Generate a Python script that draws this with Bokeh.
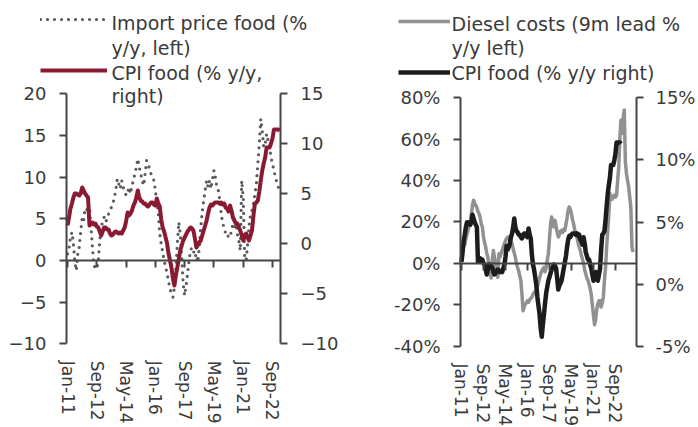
from bokeh.plotting import figure
from bokeh.models import (Range1d, LinearAxis, FixedTicker, Legend, LegendItem,
                          Label, ColumnDataSource)
from bokeh.core.properties import value
from bokeh.layouts import row
from bokeh.embed import file_html
from bokeh.resources import INLINE

# ---------------- data (months since Jan-2011) ----------------
tick_months = [0, 20, 40, 60, 80, 100, 120, 140]
tick_labels = ["Jan-11", "Sep-12", "May-14", "Jan-16", "Sep-17", "May-19", "Jan-21", "Sep-22"]

cpi_food = [
    1.8, 2.6, 3.5, 4.0, 4.6, 5.0, 5.0, 4.9, 4.8, 5.0,
    5.6, 5.3, 5.0, 4.8, 4.6, 1.8, 2.0, 2.1, 1.9, 2.0,
    1.7, 1.6, 1.2, 0.8, 1.2, 1.6, 1.6, 1.4, 1.4, 1.0,
    0.8, 0.9, 1.1, 1.2, 1.1, 1.0, 1.1, 1.0, 1.3, 1.6,
    2.2, 3.1, 2.8, 3.0, 3.3, 3.8, 4.1, 4.6, 5.3, 4.6,
    4.3, 4.2, 4.0, 4.0, 3.8, 3.7, 3.9, 4.1, 4.1, 3.9,
    3.8, 4.5, 4.0, 3.7, 2.4, 1.6, 1.2, 0.6, 0.0, -1.0,
    -1.7, -2.4, -3.5, -4.2, -3.2, -2.4, -1.5, -0.7, -0.2, 0.3,
    0.6, 0.9, 1.2, 1.4, 1.6, 1.5, 1.3, 0.5, -0.4, -0.1,
    0.1, 0.3, 0.8, 1.3, 1.8, 2.3, 3.0, 3.6, 3.9, 3.8,
    4.0, 4.1, 4.1, 4.1, 4.0, 4.1, 3.9, 4.0, 3.6, 3.5,
    3.2, 3.8, 3.3, 2.6, 2.3, 2.0, 2.0, 1.6, 1.3, 0.8,
    0.3, 0.7, 1.0, 0.6, 0.3, 0.8, 1.3, 2.8, 4.0, 4.1,
    4.3, 5.2, 6.3, 7.3, 8.0, 8.6, 9.6, 9.6, 9.6, 10.0,
    10.5, 11.4, 11.4, 11.4, 11.4, 11.3,
]

import_price_food = [
    0.8, 1.5, 2.8, 3.4, 2.0, -0.2, -1.2, 0.8, 1.6, 3.5,
    5.2, 4.8, 6.2, 6.0, 6.4, 6.2, 4.0, 1.6, -0.5, -1.0,
    -1.0, 0.0, 2.4, 3.8, 4.8, 5.2, 4.6, 5.0, 5.6, 6.0,
    6.4, 6.8, 7.6, 8.5, 9.8, 9.2, 8.6, 9.6, 8.8, 8.4,
    7.8, 8.2, 8.8, 8.0, 9.0, 9.6, 10.4, 11.2, 12.2, 11.2,
    10.4, 9.6, 9.0, 10.4, 12.0, 11.6, 11.0, 10.4, 10.0, 9.6,
    8.4, 7.0, 5.6, 3.2, 2.0, 1.0, 0.0, -0.8, -1.5, -2.5,
    -3.4, -4.0, -4.4, -3.2, -1.0, 2.0, 4.6, 3.2, 0.5, -2.8,
    -4.2, -3.0, -1.6, 0.0, 1.2, 1.6, 1.2, 0.4, 0.8, -0.2,
    1.6, 4.0, 5.8, 7.2, 8.4, 9.6, 8.8, 9.6, 8.6, 9.8,
    10.8, 10.0, 8.8, 8.4, 7.2, 5.6, 4.4, 4.0, 3.2, 2.8,
    3.0, 2.8, 3.6, 4.4, 4.0, 4.4, 3.2, 2.4, 1.2, 9.6,
    7.6, 0.4, 0.0, 2.0, 4.2, 5.5, 6.0, 6.8, 8.0, 9.2,
    11.6, 14.0, 17.0, 15.6, 13.6, 14.0, 15.2, 14.4, 13.6, 12.4,
    11.6, 10.8, 10.0, 9.4, 8.8, 8.0,
]

diesel_9m_lead = [
    2, 6, 11, 9, 12, 14, 16, 18, 19, 24,
    28, 30.5, 29, 28, 27, 25, 24, 22, 19, 17.6,
    12.8, 10, 8, 5, 3, -2, -5, -7, 1.5, 6.3,
    3, 0, -2, -6.6, 4.7, 3, 5, 6.3, 8, 9.5,
    11, 12, 12.8, 12.8, 11.5, 10.5, 9.5, 7, 5, 3,
    0, -2, -3.4, -6, -8.2, -15, -22.8, -21, -19.5, -19,
    -18, -18.7, -17.5, -16.8, -16.3, -15, -14, -13.5, -13, -11,
    -9, -7, -5, -3.5, -2.5, -1.8, -4, -2, 1.5, 4.7,
    12, 19, 22.4, 19, 17.6, 20.8, 18, 15, 12.8, 14,
    15.5, 16, 15, 16.5, 16, 19, 22, 25.7, 27.3, 26,
    24, 21, 19, 16, 14, 12.8, 10, 8, 6.3, 4,
    2, 0, -3, -5, -7, -8, -10, -12, -15, -20,
    -25, -29.5, -27, -22, -19.5, -18, -18, -21, -19, -16,
    -8, -1.8, 8, 16, 24, 33.7, 32, 31, 32, 33,
    32, 33, 40, 46.6, 60, 69, 62.8, 70, 74, 49,
    43.4, 40, 37, 32, 27, 8, 5.5,
]

left_ticks_1 = [-10, -5, 0, 5, 10, 15, 20]
right_ticks_1 = [-10, -5, 0, 5, 10, 15]
left_ticks_2 = [-40, -20, 0, 20, 40, 60, 80]
right_ticks_2 = [-5, 0, 5, 10, 15]

legend_1 = ["Import price food (%", "y/y, left)", "CPI food (% y/y,", "right)"]
legend_2 = ["Diesel costs (9m lead %", "y/y left)", "CPI food (% y/y right)"]

FONT = "DejaVu Sans"
TXT = "#3a3a3a"
AX = "#454545"
RED = "#8a1a32"
DOTS = "#5a5a5a"
GREY = "#919191"
BLACK = "#1c1c1c"
H = 427


def style_axis(ax, size="18px"):
    ax.axis_line_color = AX
    ax.axis_line_width = 2
    ax.major_tick_line_color = AX
    ax.major_tick_line_width = 2
    ax.minor_tick_line_color = None
    ax.major_label_text_font = FONT
    ax.major_label_text_font_size = size
    ax.major_label_text_color = TXT


def y_axis(p, ticks, bounds, side, xloc, range_name="default", pct=False, standoff=13):
    ax = LinearAxis(ticker=FixedTicker(ticks=ticks), bounds=bounds,
                    y_range_name=range_name, fixed_location=xloc)
    style_axis(ax)
    ax.major_tick_out = 7
    ax.major_tick_in = 0
    ax.major_label_standoff = standoff
    if pct:
        ax.major_label_overrides = {t: f"{t}%" for t in ticks}
    p.add_layout(ax, side)


def x_axes(p, bottom_val, xbounds, standoff):
    # date labels, drawn under the bottom of the value axes
    xa = LinearAxis(ticker=FixedTicker(ticks=tick_months), fixed_location=bottom_val,
                    major_label_overrides=dict(zip(tick_months, tick_labels)))
    style_axis(xa, "17px")
    xa.axis_line_color = None
    xa.major_tick_line_color = None
    xa.major_tick_in = 0
    xa.major_tick_out = 0
    xa.major_label_orientation = "vertical"
    xa.major_label_standoff = standoff
    p.add_layout(xa, "below")
    # zero line with downward ticks
    za = LinearAxis(ticker=FixedTicker(ticks=[], minor_ticks=tick_months),
                    fixed_location=0, bounds=xbounds)
    style_axis(za)
    za.minor_tick_line_color = AX
    za.minor_tick_line_width = 2
    za.minor_tick_out = 7
    za.minor_tick_in = 0
    p.add_layout(za, "below")


def base_fig(width, xr, yr):
    p = figure(width=width, height=H, output_backend="svg", toolbar_location=None,
               x_range=xr, y_range=yr, x_axis_location=None, y_axis_location=None,
               min_border=0, min_border_left=0, min_border_right=0,
               min_border_top=0, min_border_bottom=0)
    p.outline_line_color = None
    p.background_fill_color = "white"
    p.border_fill_color = "white"
    p.grid.visible = False
    return p


def text_label(p, x, y, txt):
    p.add_layout(Label(x=x, y=y, x_units="screen", y_units="screen", text=txt,
                       text_font=FONT, text_font_size="19px", text_color=TXT,
                       text_baseline="alphabetic", text_align="left"))


def sample_legend(p, renderers, loc, glyph_width):
    lg = Legend(items=[LegendItem(label=value(" "), renderers=[r]) for r in renderers],
                location=loc, glyph_width=glyph_width, glyph_height=20, spacing=31,
                padding=0, margin=0, label_standoff=0, label_text_font_size="1px",
                label_height=1, label_width=1, border_line_alpha=0,
                background_fill_alpha=0)
    p.add_layout(lg)


# ---------------- left chart ----------------
# month 0 at x=67 px, 1.464 px/month; left value 0 at y=260 px, 8.333 px/unit
src1 = ColumnDataSource(dict(m=list(range(len(cpi_food))), cpi=cpi_food, imp=import_price_food))
p1 = base_fig(350, Range1d(-45.8, 193.3), Range1d(-20.04, 31.2))
p1.extra_y_ranges = {"r": Range1d(-18.4, 24.3)}
y_axis(p1, left_ticks_1, (-10, 20), "left", -0.7)
y_axis(p1, right_ticks_1, (-10, 15), "right", 145.5, "r")
x_axes(p1, -10, (-0.7, 145.5), 17)
r_imp = p1.line(x="m", y="imp", source=src1, line_color=DOTS, line_width=3.2,
                line_dash="0 7", line_cap="round")
r_cpi = p1.line(x="m", y="cpi", source=src1, y_range_name="r", line_color=RED,
                line_width=4, line_join="round")
sample_legend(p1, [r_imp, r_cpi], (40, 347), 67)
for y, t in zip([405, 380, 355, 332], legend_1):
    text_label(p1, 111, y, t)

# ---------------- right chart ----------------
src2a = ColumnDataSource(dict(m=list(range(len(diesel_9m_lead))), d=diesel_9m_lead))
src2b = ColumnDataSource(dict(m=list(range(len(cpi_food))), cpi=cpi_food))
p2 = base_fig(348, Range1d(-100.9, 215.5), Range1d(-79.04, 126.75))
p2.extra_y_ranges = {"r": Range1d(-11.49, 22.81)}
y_axis(p2, left_ticks_2, (-40, 80), "left", -0.9, pct=True)
y_axis(p2, right_ticks_2, (-5, 15), "right", 159.1, "r", pct=True, standoff=12)
x_axes(p2, -40, (-0.9, 159.1), 17)
r_d = p2.line(x="m", y="d", source=src2a, line_color=GREY, line_width=3.5, line_join="round")
r_c = p2.line(x="m", y="cpi", source=src2b, y_range_name="r", line_color=BLACK,
              line_width=4.5, line_join="round")
sample_legend(p2, [r_d, r_c], (48, 345), 52)
for y, t in zip([404, 380, 355], legend_2):
    text_label(p2, 101, y, t)

layout = row(p1, p2)
open("out.html", "w").write(file_html(layout, INLINE))
